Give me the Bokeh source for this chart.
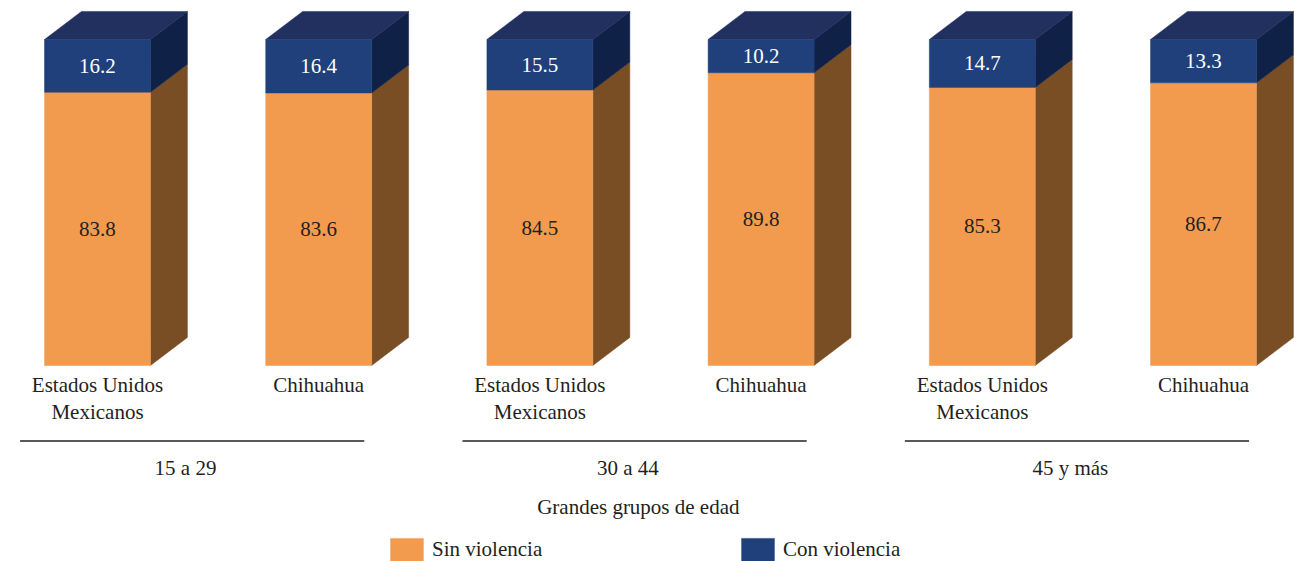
from bokeh.plotting import figure
from bokeh.models import ColumnDataSource, Range1d, Legend, LegendItem, Label, LabelSet
from bokeh.core.properties import value
from bokeh.embed import file_html
from bokeh.resources import INLINE

# ---- data ----
age_groups = ["15 a 29", "30 a 44", "45 y más"]
regions = ["Estados Unidos\nMexicanos", "Chihuahua"]
sin_violencia = [83.8, 83.6, 84.5, 89.8, 85.3, 86.7]
con_violencia = [16.2, 16.4, 15.5, 10.2, 14.7, 13.3]
series_names = ["Sin violencia", "Con violencia"]
axis_title = "Grandes grupos de edad"

# ---- style ----
ORANGE = "#F29B4F"
BROWN = "#7A4E24"
BLUE = "#1F407A"
TOP = "#21305E"
SIDE_BLUE = "#0F2147"
FONT = "'Liberation Serif', 'Times New Roman', Times, serif"
FS = "21px"
TXT = "#231F20"

W, H = 1294, 561
n = len(sin_violencia)
xs = list(range(n))
bw = 0.479      # front face width (x units)
dx = 0.167      # depth offset x
dy = 8.6        # depth offset y

p = figure(width=W, height=H, x_range=Range1d(-0.4385, 5.4114),
           y_range=Range1d(-60.12, 111.96), output_backend="svg",
           toolbar_location=None, x_axis_type=None, y_axis_type=None,
           min_border=0)
p.outline_line_color = None
p.xgrid.visible = False
p.ygrid.visible = False
p.background_fill_color = "white"

lefts = [x - bw / 2 for x in xs]
rights = [x + bw / 2 for x in xs]
totals = [s + c for s, c in zip(sin_violencia, con_violencia)]

# side faces
side_src = ColumnDataSource(dict(
    xs=[[r, r + dx, r + dx, r] for r in rights] * 2,
    ys=[[0, dy, s + dy, s] for s in sin_violencia] +
       [[s, s + dy, t + dy, t] for s, t in zip(sin_violencia, totals)],
    color=[BROWN] * n + [SIDE_BLUE] * n,
))
p.patches("xs", "ys", source=side_src, fill_color="color", line_color="color", line_width=0.5)

# top faces
top_src = ColumnDataSource(dict(
    xs=[[l, l + dx, r + dx, r] for l, r in zip(lefts, rights)],
    ys=[[t, t + dy, t + dy, t] for t in totals],
))
p.patches("xs", "ys", source=top_src, fill_color=TOP, line_color=TOP, line_width=0.5)

# front faces
src = ColumnDataSource(dict(
    left=lefts, right=rights, sin=sin_violencia, tot=totals,
    zero=[0] * n,
))
r_sin = p.quad(left="left", right="right", bottom="zero", top="sin", source=src,
               fill_color=ORANGE, line_color=ORANGE, line_width=0.5)
r_con = p.quad(left="left", right="right", bottom="sin", top="tot", source=src,
               fill_color=BLUE, line_color=BLUE, line_width=0.5)

# value labels
lab_src = ColumnDataSource(dict(
    x=xs * 2,
    y=[s / 2 for s in sin_violencia] + [s + c / 2 for s, c in zip(sin_violencia, con_violencia)],
    text=[f"{v:.1f}" for v in sin_violencia] + [f"{v:.1f}" for v in con_violencia],
    color=[TXT] * n + ["white"] * n,
))
p.add_layout(LabelSet(x="x", y="y", text="text", source=lab_src, text_color="color",
                      text_align="center", text_baseline="middle",
                      text_font=value(FONT), text_font_size=value(FS)))

# category labels
cat_y0 = -5.83
cat_step = 8.28
cx, cy, ct = [], [], []
for i in xs:
    for k, line in enumerate(regions[i % len(regions)].split("\n")):
        cx.append(i)
        cy.append(cat_y0 - k * cat_step)
        ct.append(line)
p.text(cx, cy, text=ct, text_align="center", text_baseline="middle",
       text_font=value(FONT), text_font_size=FS, text_color=TXT)

# group separators and labels
gcenters = [2 * g + 0.5 - 0.072 for g in range(len(age_groups))]
half = 0.778
line_y = -23.16
p.segment(x0=[g - half for g in gcenters], y0=[line_y] * len(gcenters),
          x1=[g + half for g in gcenters], y1=[line_y] * len(gcenters),
          line_color="#231F20", line_width=1.6)
p.text([g - 0.03 for g in gcenters], [-31.3] * len(gcenters), text=age_groups,
       text_align="center", text_baseline="middle", text_font=value(FONT),
       text_font_size=FS, text_color=TXT)

p.add_layout(Label(x=2.445, y=-43.25, text=axis_title, text_align="center",
                   text_baseline="middle", text_font=FONT, text_font_size=FS,
                   text_color=TXT))

# legend (legend glyph is drawn at 80% of its box)
legend = Legend(items=[LegendItem(label=series_names[0], renderers=[r_sin]),
                       LegendItem(label=series_names[1], renderers=[r_con])],
                orientation="horizontal", location=(386, -3),
                glyph_width=41, glyph_height=29, label_standoff=5,
                label_width=300, label_height=29, spacing=5,
                label_text_font=FONT, label_text_font_size=FS,
                label_text_color=TXT, padding=0, margin=0,
                border_line_alpha=0, background_fill_alpha=0)
p.add_layout(legend)

open("out.html", "w").write(file_html(p, INLINE))
